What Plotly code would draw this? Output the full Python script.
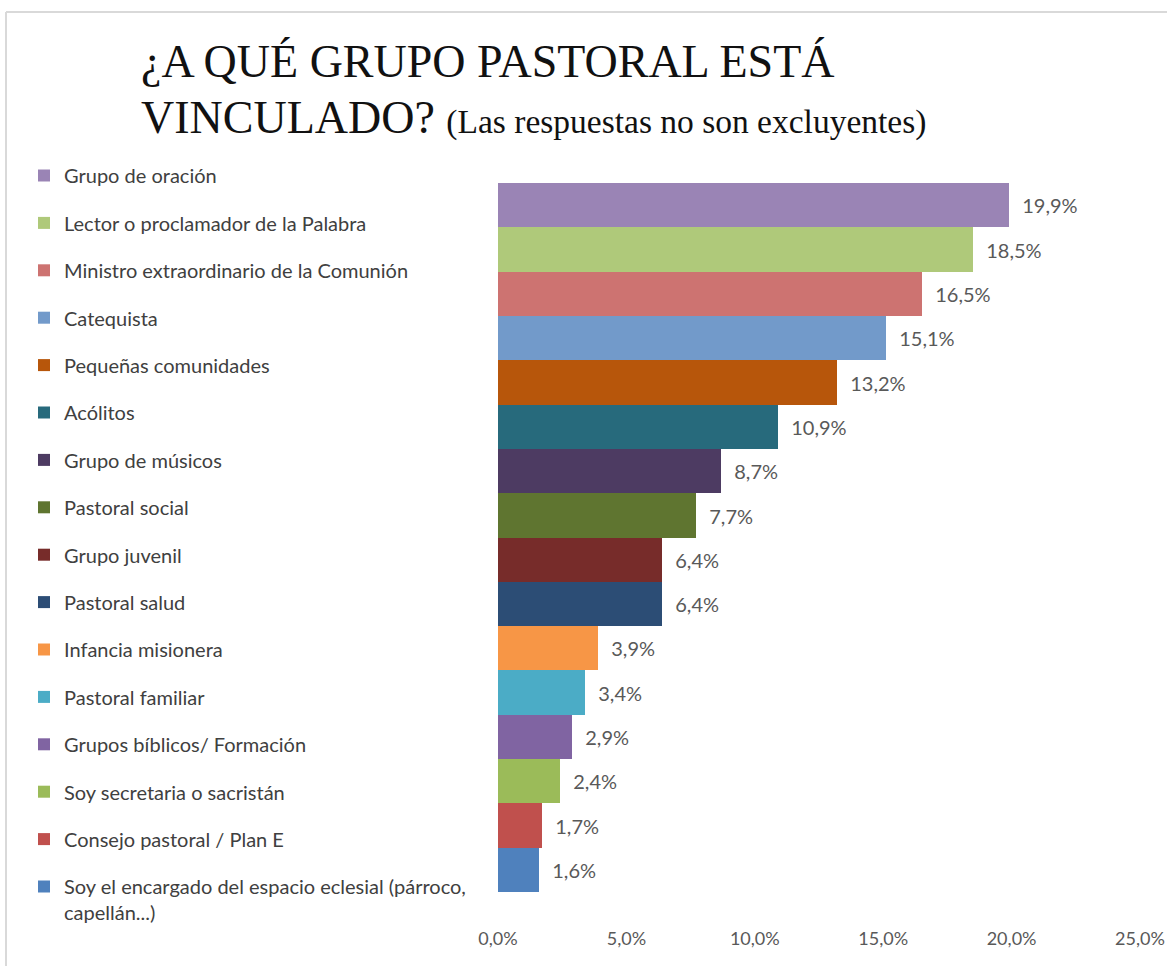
import plotly.graph_objects as go

# --- data ---
groups = [
    "Grupo de oración",
    "Lector o proclamador de la Palabra",
    "Ministro extraordinario de la Comunión",
    "Catequista",
    "Pequeñas comunidades",
    "Acólitos",
    "Grupo de músicos",
    "Pastoral social",
    "Grupo juvenil",
    "Pastoral salud",
    "Infancia misionera",
    "Pastoral familiar",
    "Grupos bíblicos/ Formación",
    "Soy secretaria o sacristán",
    "Consejo pastoral / Plan E",
    "Soy el encargado del espacio eclesial (párroco,<br>capellán...)",
]
percent = [19.9, 18.5, 16.5, 15.1, 13.2, 10.9, 8.7, 7.7, 6.4, 6.4, 3.9, 3.4, 2.9, 2.4, 1.7, 1.6]
colors = [
    "#9A84B5", "#AFC97A", "#CD7371", "#729ACA", "#B7560B", "#276A7C",
    "#4D3B62", "#5F7530", "#772C2A", "#2C4D75", "#F79646", "#4BACC6",
    "#8064A2", "#9BBB59", "#C0504D", "#4F81BD",
]
x_ticks = [0, 5, 10, 15, 20, 25]
x_ticktext = [f"{v:.1f}%".replace(".", ",") for v in x_ticks]

# the page body margin is removed below, so the figure sits at (0, 0)
W, H = 1167, 966
L, T = 498, 183
R, B = W - 1140, H - 892
pw, ph = W - L - R, H - T - B


def px_x(screen_x):
    return (screen_x - L) / pw


def px_y(screen_y):
    return 1 - (screen_y - T) / ph


fig = go.Figure()
for i, (name, val, col) in enumerate(zip(groups, percent, colors)):
    fig.add_trace(
        go.Bar(
            y=[i],
            x=[val],
            orientation="h",
            name=name,
            legendgroup=f"g{i}",
            marker=dict(color=col, line=dict(width=0)),
            texttemplate="\u00a0\u00a0%{x:.1f}%",
            textposition="outside",
            textfont=dict(family="Lato", size=20, color="#595959"),
            cliponaxis=False,
            hoverinfo="skip",
        )
    )

fig.update_layout(
    width=W,
    height=H,
    margin=dict(l=L, r=R, t=T, b=B, autoexpand=False),
    paper_bgcolor="white",
    plot_bgcolor="white",
    barmode="stack",
    bargap=0,
    separators=",.",
    showlegend=True,
    legend=dict(
        x=px_x(24),
        y=px_y(156),
        xanchor="left",
        yanchor="top",
        traceorder="grouped",
        tracegroupgap=18.4,
        valign="top",
        maxheight=900,
        font=dict(family="Lato", size=20, color="#404040"),
        bgcolor="rgba(0,0,0,0)",
    ),
    xaxis=dict(
        range=[0, 25],
        tickvals=x_ticks,
        ticktext=x_ticktext,
        showgrid=False,
        zeroline=False,
        showline=False,
        ticks="",
        automargin=False,
        ticklabelstandoff=34,
        ticklabeloverflow="allow",
        tickfont=dict(family="Lato", size=18, color="#595959"),
    ),
    yaxis=dict(
        range=[len(groups) - 0.5, -0.5],
        showticklabels=False,
        showgrid=False,
        zeroline=False,
        showline=False,
        ticks="",
        automargin=False,
    ),
)

# title lines
fig.add_annotation(
    text="¿A QUÉ GRUPO PASTORAL ESTÁ",
    xref="paper", yref="paper",
    x=px_x(139), y=px_y(61),
    xanchor="left", yanchor="middle",
    showarrow=False,
    font=dict(family="Liberation Serif", size=46, color="#111111"),
)
fig.add_annotation(
    text="VINCULADO? <span style='font-size:33.5px'>(Las respuestas no son excluyentes)</span>",
    xref="paper", yref="paper",
    x=px_x(139), y=px_y(118),
    xanchor="left", yanchor="middle",
    showarrow=False,
    font=dict(family="Liberation Serif", size=46, color="#111111"),
)

# chart frame (cropped at right and bottom)
fig.add_shape(
    type="line", xref="paper", yref="paper",
    x0=px_x(6), y0=px_y(12), x1=px_x(1180), y1=px_y(12),
    line=dict(color="#D9D9D9", width=2),
)
fig.add_shape(
    type="line", xref="paper", yref="paper",
    x0=px_x(6), y0=px_y(12), x1=px_x(6), y1=px_y(980),
    line=dict(color="#D9D9D9", width=2),
)

fig.write_html(
    "out.html",
    config={"displayModeBar": False},
    post_script="document.body.style.margin = '0';",
)
